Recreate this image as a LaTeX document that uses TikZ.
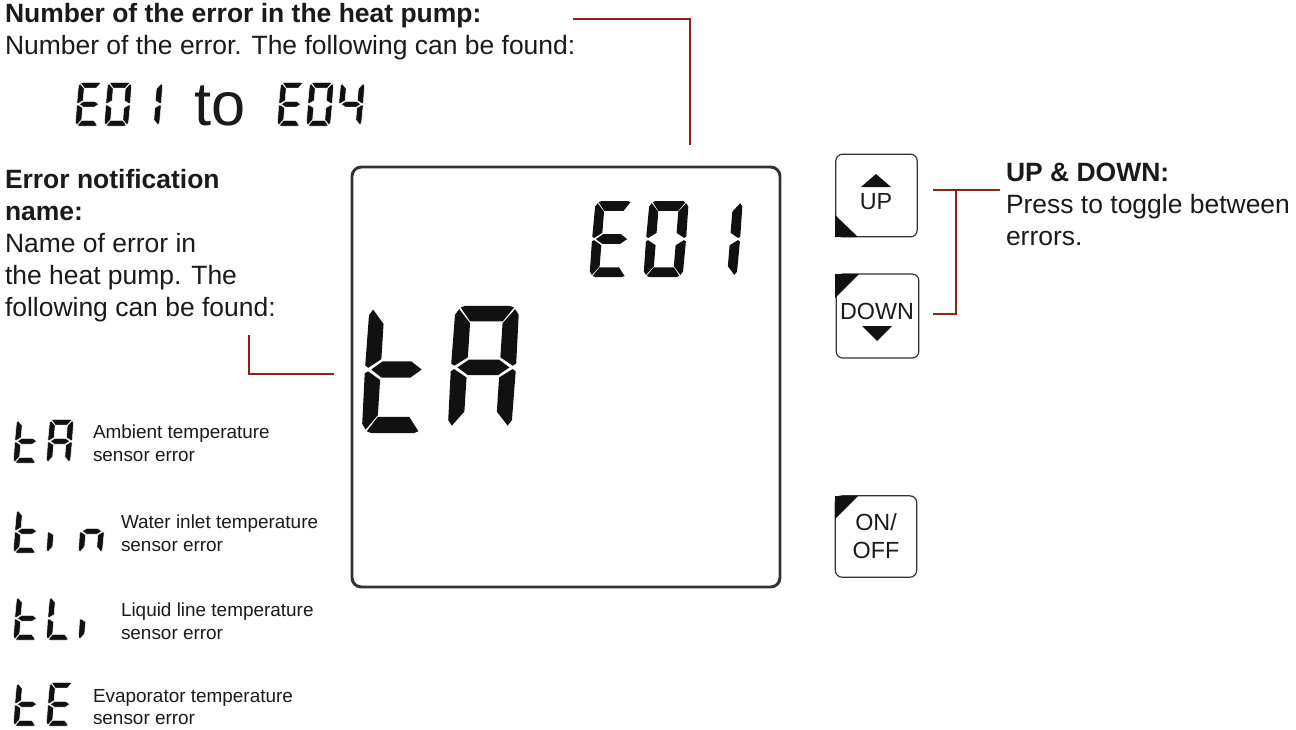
\documentclass[tikz,border=0pt]{standalone}
\usepackage{fontspec}
\setmainfont{Liberation Sans}
\definecolor{leader}{HTML}{8E2018}
\definecolor{lcdink}{HTML}{111111}
\definecolor{frameink}{HTML}{333333}
\definecolor{textink}{HTML}{1A1A1A}
\newcommand{\headfont}{\fontsize{19.85pt}{24pt}\selectfont}
\newcommand{\listfont}{\fontsize{14.2pt}{16pt}\selectfont}
\newcommand{\btnfont}{\fontsize{17.5pt}{20pt}\selectfont}
\tikzset{
  seg/.style={fill=lcdink},
  segthin/.style={fill=lcdink,draw=white,line width=0.35pt},
  leaderline/.style={draw=leader,line width=1.5pt},
  txt/.style={anchor=base west,inner sep=0pt,outer sep=0pt,text=textink},
  lbl/.style={txt,font=\listfont},
  head/.style={txt,font=\headfont},
  btn/.style={draw=frameink,line width=0.9pt,rounded corners=5pt,inner sep=0pt},
  btntext/.style={inner sep=0pt,anchor=base,font=\btnfont,text=textink}
}
% seven segments, in a 10 x 22 cell
\newcommand{\lcdsega}{\path[seg] (0.9,21.7)--(1.6,22)--(8.4,22)--(9.1,21.7)--(7.5,19.2)--(2.5,19.2)--cycle;}
\newcommand{\lcdsegd}{\path[seg] (0.9,0.3)--(1.6,0)--(8.4,0)--(9.1,0.3)--(7.5,2.8)--(2.5,2.8)--cycle;}
\newcommand{\lcdsegg}{\path[seg] (1.0,11)--(2.7,12.4)--(7.3,12.4)--(9.0,11)--(7.3,9.6)--(2.7,9.6)--cycle;}
\newcommand{\lcdsegf}{\path[seg] (0.7,21.4)--(2.5,18.9)--(2.5,12.8)--(0.5,11.3)--(0,11.7)--(0.1,20.4)--cycle;}
\newcommand{\lcdsege}{\path[seg] (0.7,0.6)--(2.5,3.1)--(2.5,9.2)--(0.5,10.7)--(0,10.3)--(0.1,1.6)--cycle;}
\newcommand{\lcdsegb}{\path[seg] (9.3,21.4)--(7.5,18.9)--(7.5,12.8)--(9.5,11.3)--(10,11.7)--(9.9,20.4)--cycle;}
\newcommand{\lcdsegc}{\path[seg] (9.3,0.6)--(7.5,3.1)--(7.5,9.2)--(9.5,10.7)--(10,10.3)--(9.9,1.6)--cycle;}
% x0, y bottom, px per unit across, px per unit up, slant px per unit up, segments
\newcommand{\lcdglyph}[6]{%
  \begin{scope}[shift={(#1,#2)},x={(#3*0.75pt,0pt)},y={(#5*0.75pt,#4*0.75pt)}]
    \foreach \s in {#6}{\csname lcdseg\s\endcsname}
  \end{scope}}
\newcommand{\smallglyph}[3]{%
  \begin{scope}[seg/.style={segthin}]\lcdglyph{#1}{#2}{2.45}{1.98}{0.16}{#3}\end{scope}}
\begin{document}
\begin{tikzpicture}[x=0.75pt,y=-0.75pt]
\useasboundingbox (0,0) rectangle (1296,729);
% main display
\node[draw=frameink,line width=2.2pt,rounded corners=7pt,minimum width=321pt,minimum height=315pt,inner sep=0pt] (display) at (566,377) {};
\lcdglyph{361}{433}{6.3}{5.77}{0.36}{f,g,e,d}
\lcdglyph{447}{429}{6.5}{5.6}{0.36}{a,b,c,e,f,g}
\lcdglyph{589}{277}{3.9}{3.45}{0.28}{a,f,g,e,d}
\lcdglyph{643}{277}{4.0}{3.45}{0.28}{a,b,c,d,e,f}
\lcdglyph{697}{277}{4.0}{3.45}{0.28}{b,c}
% top-left text
\node[head,font=\headfont\bfseries] (h1) at (5,22) {Number of the error in the heat pump:};
\node[head] (h2) at (5,54) {Number of the error. The following can be found:};
\smallglyph{75}{126}{a,f,g,e,d}
\smallglyph{104}{126}{a,b,c,d,e,f}
\smallglyph{135}{126}{b,c}
\node[txt,font=\fontsize{46pt}{52pt}\selectfont] (to) at (194,125) {to};
\smallglyph{277}{126}{a,f,g,e,d}
\smallglyph{306}{126}{a,b,c,d,e,f}
\smallglyph{337}{126}{f,g,b,c}
% left text
\node[head,font=\headfont\bfseries] (e1) at (5,188) {Error notification};
\node[head,font=\headfont\bfseries] (e2) at (5,220) {name:};
\node[head] (e3) at (5,252) {Name of error in};
\node[head] (e4) at (5,284) {the heat pump. The};
\node[head] (e5) at (5,316) {following can be found:};
% error list
\smallglyph{13}{463}{f,g,e,d}
\smallglyph{46}{463}{a,b,c,e,f,g}
\node[lbl] (l1a) at (93,438) {Ambient temperature};
\node[lbl] (l1b) at (93,461) {sensor error};
\smallglyph{13}{553}{f,g,e,d}
\smallglyph{46}{553}{e}
\smallglyph{78}{553}{e,g,c}
\node[lbl] (l2a) at (121,528) {Water inlet temperature};
\node[lbl] (l2b) at (121,551) {sensor error};
\smallglyph{13}{640}{f,g,e,d}
\smallglyph{46}{640}{f,e,d}
\smallglyph{78}{640}{e}
\node[lbl] (l3a) at (121,616) {Liquid line temperature};
\node[lbl] (l3b) at (121,639) {sensor error};
\smallglyph{13}{726}{f,g,e,d}
\smallglyph{46}{726}{a,f,g,e,d}
\node[lbl] (l4a) at (93,702) {Evaporator temperature};
\node[lbl] (l4b) at (93,724) {sensor error};
% buttons
\node[btn,minimum width=61pt,minimum height=62pt] (up) at (876.5,195.5) {};
\fill[lcdink] (835,215)--(835,237)--(858,237)--cycle;
\fill[lcdink] (876,174)--(891,187)--(861,187)--cycle;
\node[btntext] (uptxt) at (876,209) {UP};
\node[btn,minimum width=62pt,minimum height=63pt] (down) at (877.5,316) {};
\fill[lcdink] (835,274)--(859,274)--(835,298)--cycle;
\fill[lcdink] (862,326)--(892,326)--(877,341)--cycle;
\node[btntext] (downtxt) at (877,319) {DOWN};
\node[btn,minimum width=61pt,minimum height=61pt] (onoff) at (876,536.5) {};
\fill[lcdink] (835,496)--(858,496)--(835,519)--cycle;
\node[btntext] (on) at (876,530) {ON/};
\node[btntext] (off) at (876,558) {OFF};
% right text
\node[head,font=\headfont\bfseries] (r1) at (1006,181) {UP \& DOWN:};
\node[head] (r2) at (1006,213) {Press to toggle between};
\node[head] (r3) at (1006,245) {errors.};
% connectors
\coordinate (t1) at (573,19);
\coordinate (t2) at (690,145);
\draw[leaderline] (t1) -| (t2);
\coordinate (m1) at (249,335);
\coordinate (m2) at (334,374);
\draw[leaderline] (m1) |- (m2);
\coordinate (u1) at (933,190);
\coordinate (u2) at (1000,190);
\coordinate (d1) at (933,314);
\coordinate (j) at (956,190);
\draw[leaderline] (u1) -- (u2);
\draw[leaderline] (j) |- (d1);
\end{tikzpicture}
\end{document}
